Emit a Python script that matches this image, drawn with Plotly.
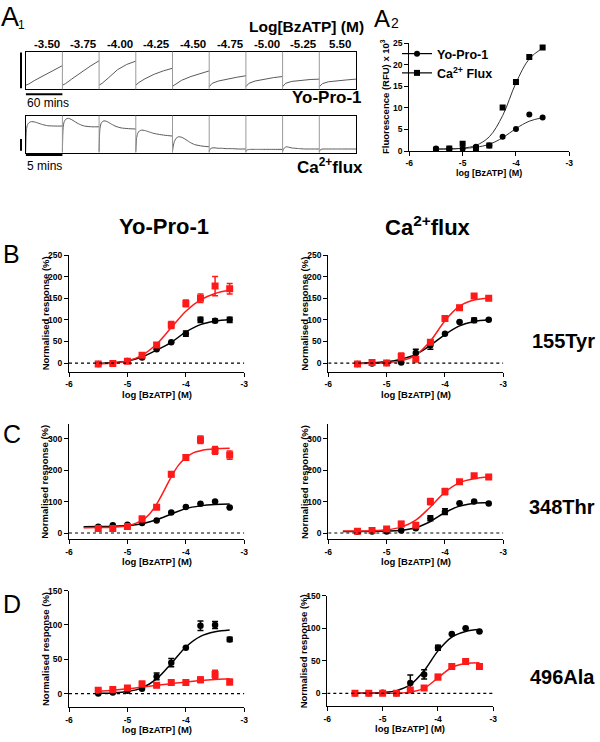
import plotly.graph_objects as go

W, H = 600, 742
FONT = "Liberation Sans, Arial, Helvetica, sans-serif"
RED = "#ff1a1a"
INK = "#000000"
TRACE_GREY = "#5a5a5a"

# ---------------- A1: raw traces ----------------
conc_labels = ["-3.50", "-3.75", "-4.00", "-4.25", "-4.50", "-4.75", "-5.00", "-5.25", "5.50"]
yopro_time = [0, 5, 15, 30, 45, 60]          # minutes within each 60-min window
yopro_signal = [
    [11, 14, 24, 37, 50, 63],
    [11, 15, 27, 45, 61, 76],
    [11, 16, 30, 52, 66, 75],
    [11, 18, 28, 40, 49, 56],
    [8, 14, 24, 34, 42, 49],
    [7, 16, 22, 28, 32, 36],
    [7, 16, 22, 27, 31, 34],
    [7, 16, 21, 24, 26, 27],
    [7, 15, 20, 23, 25, 27],
]
ca_time = [0, 0.1, 0.25, 0.5, 0.8, 1.2, 1.7, 2.3, 3.0, 4.0, 5.0]   # minutes within each 5-min window
ca_signal = [
    [3, 62, 76, 82, 84, 83, 80, 76, 73, 72, 72],
    [3, 68, 84, 91, 93, 90, 84, 77, 72, 70, 70],
    [3, 62, 78, 85, 86, 83, 77, 71, 67, 65, 64],
    [3, 38, 52, 59, 61, 60, 57, 53, 50, 47, 45],
    [3, 18, 30, 39, 43, 42, 37, 29, 22, 18, 16],
    [3, 9, 12, 13, 13, 12, 12, 11, 11, 10, 10],
    [3, 7, 8, 9, 9, 9, 9, 9, 9, 9, 9],
    [3, 9, 13, 16, 15, 13, 12, 11, 10, 10, 10],
    [3, 7, 9, 10, 10, 10, 10, 10, 10, 10, 10],
]
YOPRO_WIN = 60
CA_WIN = 5

# ---------------- A2 ----------------
a2_dose = [-5.5, -5.25, -5.0, -4.75, -4.5, -4.25, -4.0, -3.75, -3.5]
a2_yopro = [0.6, 0.5, 0.5, 1.0, 1.3, 3.3, 5.1, 8.5, 7.8]
a2_ca = [0.3, 0.6, 1.7, 0.7, 1.3, 10.1, 16.0, 21.8, 24.0]
a2_yopro_fit = [0.5, 0.52, 0.6, 0.87, 1.56, 3.07, 5.22, 6.92, 7.74]
a2_ca_fit = [0.41, 0.45, 0.66, 1.3, 3.3, 8.2, 15.8, 21.4, 23.9]

# ---------------- B / C / D ----------------
dose = [-5.5, -5.25, -5.0, -4.75, -4.5, -4.25, -4.0, -3.75, -3.5, -3.25]
fit_x_short = [-5.5, -5.25, -5.0, -4.75, -4.5, -4.25, -4.0, -3.75, -3.5, -3.25]
fit_x_long = [-5.75, -5.5, -5.25, -5.0, -4.75, -4.5, -4.25, -4.0, -3.75, -3.5, -3.25]
fit_x_steep = [-5.75, -5.5, -5.25, -5.0, -4.75, -4.625, -4.5, -4.375, -4.25, -4.125,
               -4.0, -3.875, -3.75, -3.5, -3.25]

# B: 155Tyr
b_yp_black = [-2, -1, 5, 13, 32, 48, 68, 100, 98, 100]
b_yp_black_err = [0, 0, 0, 0, 0, 0, 6, 6, 4, 6]
b_yp_red = [-2, -1, 4, 18, 42, 88, 138, 150, 178, 172]
b_yp_red_err = [0, 0, 2, 3, 5, 8, 8, 10, 22, 12]
b_yp_black_fit = [-1, 1, 5, 14, 30, 48, 72, 89, 97, 101]
b_yp_red_fit = [-2, 0, 5, 18, 44, 82, 120, 146, 161, 169]

b_ca_black = [-2, -1, 0, 1, 23, 41, 68, 95, 99, 100]
b_ca_black_err = [0, 0, 0, 0, 9, 9, 0, 0, 5, 0]
b_ca_red = [-2, 1, 0, 15, 9, 48, 103, 128, 155, 150]
b_ca_red_err = [0, 0, 0, 8, 5, 5, 6, 5, 3, 3]
b_ca_black_fit = [-1, 1, 3, 9, 20, 41, 66, 86, 96, 100]
b_ca_red_fit = [-0.9, -0.5, 0.8, 5, 18.4, 51, 98, 131.6, 145.7, 150.2]

# C: 348Thr
c_yp_black = [20, 25, 26, 32, 40, 65, 83, 93, 100, 81]
c_yp_black_err = [0, 0, 0, 0, 0, 0, 0, 0, 0, 0]
c_yp_red = [14, 14, 21, 45, 82, 187, 240, 297, 263, 248]
c_yp_red_err = [3, 3, 4, 8, 6, 8, 8, 12, 12, 13]
c_yp_black_fit = [20.2, 20.5, 21.4, 23.8, 29.8, 42.2, 60.3, 77.7, 86.4, 90.6, 92.1]
c_yp_red_fit = [17.1, 17.3, 18.4, 22.9, 40, 60, 92, 134, 179, 216, 240, 255, 262, 268, 269.5]

c_ca_black = [4, 5, 5, 8, 15, 47, 68, 95, 100, 94]
c_ca_black_err = [0, 0, 0, 0, 0, 8, 9, 0, 0, 0]
c_ca_red = [6, 8, 13, 29, 25, 100, 132, 163, 182, 178]
c_ca_red_err = [0, 0, 3, 8, 5, 10, 10, 5, 3, 4]
c_ca_black_fit = [5, 5.1, 5.3, 6.1, 8.7, 16.8, 36.7, 65.2, 85.6, 94.2, 96.9]
c_ca_red_fit = [6.1, 6.4, 7.4, 10.3, 18.8, 41, 83, 130, 160.5, 173, 178]

# D: 496Ala
d_yp_black = [0, 1.5, 4, 7, 25, 45, 67, 99, 100, 79]
d_yp_black_err = [0, 0, 0, 0, 5, 6, 0, 7, 5, 3]
d_yp_red = [5, 6, 8, 14, 12, 16, 16, 20, 28, 17]
d_yp_red_err = [2, 2, 2, 4, 3, 2, 4, 4, 6, 4]
d_yp_black_fit = [0.35, 1, 3, 8.4, 21.4, 43.9, 68, 83.4, 90, 92.7]
d_yp_red_fit = [3.5, 5, 7, 9.5, 12, 14.5, 17, 19, 20.5, 21.5]

d_ca_black = [0, 0, 1, 0, 16, 29, 70, 91, 100, 95]
d_ca_black_err = [0, 0, 0, 0, 12, 7, 4, 0, 0, 0]
d_ca_red = [0, 0, 0, 0, 5, 8, 25, 41, 49, 41]
d_ca_red_err = [0, 0, 0, 0, 0, 2, 4, 0, 0, 0]
d_ca_black_fit = [0.1, 0.3, 1.2, 4.1, 13.2, 34.8, 65.2, 86.4, 95, 97.9]
d_ca_red_fit = [0, 0, 0.05, 0.4, 1.8, 7.9, 23.75, 39.6, 45.7, 47.1]

dose_ticks = [-6, -5, -4, -3]
dose_ticktext = ["-6", "-5", "-4", "-3"]
mutants = ["155Tyr", "348Thr", "496Ala"]


def px(p):
    return p / W


def py(p):
    return 1 - p / H


fig = go.Figure()
layout = dict(
    width=W, height=H, margin=dict(l=0, r=0, t=0, b=0),
    paper_bgcolor="white", plot_bgcolor="rgba(0,0,0,0)",
    font=dict(family=FONT, color=INK),
    showlegend=True,
)
shapes = []
annotations = []


def ann(text, x, y, size, bold=True, xanchor="center", yanchor="middle", angle=0,
        xref="paper", yref="paper"):
    annotations.append(dict(
        text=text, x=x, y=y, xref=xref, yref=yref, showarrow=False,
        xanchor=xanchor, yanchor=yanchor, textangle=angle,
        font=dict(family=FONT, size=size, color=INK, weight="bold" if bold else "normal"),
    ))


def box_axis(domain, rng, anchor):
    return dict(domain=domain, range=rng, anchor=anchor, showline=True, mirror=True,
                linecolor=INK, linewidth=1.3, ticks="", showticklabels=False,
                showgrid=False, zeroline=False, fixedrange=True)


def plot_axis(domain, rng, anchor, tickvals, ticktext=None):
    d = dict(domain=domain, range=rng, anchor=anchor, showline=True, mirror=False,
             linecolor=INK, linewidth=1.3, ticks="outside", ticklen=4, tickwidth=1.3,
             tickcolor=INK, showgrid=False, zeroline=False, fixedrange=True,
             automargin=False, tickvals=tickvals,
             tickfont=dict(family=FONT, size=8.5, color=INK, weight="bold"))
    if ticktext is not None:
        d["ticktext"] = ticktext
    return d


# ---------- A1 ----------
A1_X = [px(25.7), px(356)]
layout["xaxis"] = box_axis(A1_X, [0, YOPRO_WIN * len(conc_labels)], "y")
layout["yaxis"] = box_axis([py(89.3), py(51.7)], [0, 100], "x")
layout["xaxis2"] = box_axis(A1_X, [0, CA_WIN * len(conc_labels)], "y2")
layout["yaxis2"] = box_axis([py(152.7), py(115.7)], [0, 100], "x2")

for i, sig in enumerate(yopro_signal):
    fig.add_trace(go.Scatter(x=[i * YOPRO_WIN + t for t in yopro_time], y=sig,
                             mode="lines", line=dict(color=TRACE_GREY, width=1),
                             xaxis="x", yaxis="y", showlegend=False, hoverinfo="skip"))
for i, sig in enumerate(ca_signal):
    fig.add_trace(go.Scatter(x=[i * CA_WIN + t for t in ca_time], y=sig,
                             mode="lines", line=dict(color=TRACE_GREY, width=1, shape="spline", smoothing=0.6),
                             xaxis="x2", yaxis="y2", showlegend=False, hoverinfo="skip"))

for i in range(1, len(conc_labels)):
    shapes.append(dict(type="line", xref="x", yref="y domain", x0=i * YOPRO_WIN, x1=i * YOPRO_WIN,
                       y0=0, y1=1, line=dict(color="#9a9a9a", width=1)))
    shapes.append(dict(type="line", xref="x2", yref="y2 domain", x0=i * CA_WIN, x1=i * CA_WIN,
                       y0=0, y1=1, line=dict(color="#9a9a9a", width=1)))

for i, lab in enumerate(conc_labels):
    ann(lab, i * YOPRO_WIN + YOPRO_WIN / 2 + 4, py(44), 11.5, xref="x")

# scale bars
shapes.append(dict(type="line", xref="paper", yref="y", x0=px(21), x1=px(21), y0=3, y1=98,
                   line=dict(color=INK, width=2)))
shapes.append(dict(type="line", xref="x", yref="paper", x0=0, x1=YOPRO_WIN, y0=py(94.3), y1=py(94.3),
                   line=dict(color=INK, width=2)))
shapes.append(dict(type="line", xref="paper", yref="y2", x0=px(21), x1=px(21), y0=5, y1=37,
                   line=dict(color=INK, width=2)))
shapes.append(dict(type="line", xref="x2", yref="paper", x0=0, x1=CA_WIN, y0=py(155), y1=py(155),
                   line=dict(color=INK, width=2)))
ann("60 mins", px(25), py(102.7), 12, bold=False, xanchor="left")
ann("5 mins", px(25), py(165.7), 12, bold=False, xanchor="left")
ann("Yo-Pro-1", px(364), py(97.3), 17, xanchor="right")
ann("Ca<sup>2+</sup>flux", px(365), py(166), 17, xanchor="right")
ann("Log[BzATP] (M)", px(247), py(26), 15.5, xanchor="left")
ann("A", px(-1), py(17), 27, bold=False, xanchor="left")
ann("1", px(16), py(25), 12, bold=False, xanchor="left")
ann("A", px(372), py(18.5), 24, bold=False, xanchor="left")
ann("2", px(388.5), py(23), 14, bold=False, xanchor="left")

# ---------- A2 ----------
layout["xaxis3"] = plot_axis([px(409.3), px(569.3)], [-6, -3], "y3", dose_ticks, dose_ticktext)
layout["yaxis3"] = plot_axis([py(151), py(43.3)], [0, 25], "x3", [0, 5, 10, 15, 20, 25])
fig.add_trace(go.Scatter(x=a2_dose, y=a2_yopro_fit, mode="lines", xaxis="x3", yaxis="y3",
                         line=dict(color="#333", width=1, shape="spline"), showlegend=False))
fig.add_trace(go.Scatter(x=a2_dose, y=a2_ca_fit, mode="lines", xaxis="x3", yaxis="y3",
                         line=dict(color="#333", width=1, shape="spline"), showlegend=False))
fig.add_trace(go.Scatter(x=a2_dose, y=a2_yopro, mode="markers", xaxis="x3", yaxis="y3",
                         marker=dict(symbol="circle", size=6, color=INK), showlegend=False))
fig.add_trace(go.Scatter(x=a2_dose, y=a2_ca, mode="markers", xaxis="x3", yaxis="y3",
                         marker=dict(symbol="square", size=6, color=INK), showlegend=False))
fig.add_trace(go.Scatter(x=[None], y=[None], mode="lines+markers", xaxis="x3", yaxis="y3",
                         name="Yo-Pro-1", marker=dict(symbol="circle", size=6, color=INK),
                         line=dict(color=INK, width=1.2)))
fig.add_trace(go.Scatter(x=[None], y=[None], mode="lines+markers", xaxis="x3", yaxis="y3",
                         name="Ca<sup>2+</sup> Flux", marker=dict(symbol="square", size=6, color=INK),
                         line=dict(color=INK, width=1.2)))
layout["legend"] = dict(x=px(397), y=py(39), xanchor="left", yanchor="top",
                        bgcolor="rgba(0,0,0,0)", itemwidth=30, tracegroupgap=0,
                        font=dict(family=FONT, size=12.5, color=INK, weight="bold"))
ann("Fluorescence (RFU) x 10<sup>3</sup>", px(385), py(97), 9.5, angle=-90)
ann("log [BzATP] (M)", px(489.3), py(173.3), 9)

# ---------- B / C / D ----------
LEFT_X = [px(69), px(244.3)]
RIGHT_X = [px(328.3), px(503.3)]
panels = [
    (LEFT_X, 371.7, 255, [-20, 250], [0, 50, 100, 150, 200, 250],
     b_yp_black, b_yp_black_err, b_yp_red, b_yp_red_err,
     fit_x_short, b_yp_black_fit, fit_x_short, b_yp_red_fit),
    (RIGHT_X, 371.7, 255, [-20, 250], [0, 50, 100, 150, 200, 250],
     b_ca_black, b_ca_black_err, b_ca_red, b_ca_red_err,
     fit_x_short, b_ca_black_fit, fit_x_short, b_ca_red_fit),
    (LEFT_X, 539.3, 424.3, [-20, 346], [0, 100, 200, 300],
     c_yp_black, c_yp_black_err, c_yp_red, c_yp_red_err,
     fit_x_long, c_yp_black_fit, fit_x_steep, c_yp_red_fit),
    (RIGHT_X, 539.3, 424.3, [-20, 346], [0, 100, 200, 300],
     c_ca_black, c_ca_black_err, c_ca_red, c_ca_red_err,
     fit_x_long, c_ca_black_fit, fit_x_long, c_ca_red_fit),
    (LEFT_X, 707.3, 590.7, [-20, 150], [0, 50, 100, 150],
     d_yp_black, d_yp_black_err, d_yp_red, d_yp_red_err,
     fit_x_short, d_yp_black_fit, fit_x_short, d_yp_red_fit),
    ([px(327.3), px(493.3)], 706.3, 595.7, [-20, 150], [0, 50, 100, 150],
     d_ca_black, d_ca_black_err, d_ca_red, d_ca_red_err,
     fit_x_short, d_ca_black_fit, fit_x_short, d_ca_red_fit),
]

for k, (xd, yb, yt, yr, yt_vals, blk, blk_e, red, red_e, bfx, bfy, rfx, rfy) in enumerate(panels):
    n = k + 4
    xa, ya = f"x{n}", f"y{n}"
    layout[f"xaxis{n}"] = plot_axis(xd, [-6, -3], ya, dose_ticks, dose_ticktext)
    layout[f"yaxis{n}"] = plot_axis([py(yb), py(yt)], yr, xa, yt_vals)
    shapes.append(dict(type="line", xref=xa, yref=ya, x0=-6, x1=-3, y0=0, y1=0,
                       line=dict(color=INK, width=1.2, dash="dot")))
    fig.add_trace(go.Scatter(x=bfx, y=bfy, mode="lines", xaxis=xa, yaxis=ya, showlegend=False,
                             line=dict(color=INK, width=1.5, shape="spline")))
    fig.add_trace(go.Scatter(x=rfx, y=rfy, mode="lines", xaxis=xa, yaxis=ya, showlegend=False,
                             line=dict(color=RED, width=1.5, shape="spline")))
    fig.add_trace(go.Scatter(x=dose, y=blk, mode="markers", xaxis=xa, yaxis=ya, showlegend=False,
                             marker=dict(symbol="circle", size=6.5, color=INK),
                             error_y=dict(type="data", array=blk_e, visible=True, color=INK,
                                          thickness=1.5, width=3)))
    fig.add_trace(go.Scatter(x=dose, y=red, mode="markers", xaxis=xa, yaxis=ya, showlegend=False,
                             marker=dict(symbol="square", size=7, color=RED),
                             error_y=dict(type="data", array=red_e, visible=True, color=RED,
                                          thickness=1.5, width=3)))
    ycen = (yb + yt) / 2
    title_x = xd[0] * W - 24
    ann("Normalised response (%)", px(title_x), py(ycen), 9.5, angle=-90)
    xcen = (xd[0] + xd[1]) / 2
    ann("log [BzATP] (M)", xcen, py(yb + 22.5), 9.5)

ann("Yo-Pro-1", px(163.5), py(226.7), 22)
ann("Ca<sup>2+</sup>flux", px(428), py(226), 22)
for lab, yc in zip(mutants, [340.7, 507, 676.7]):
    ann(lab, px(597), py(yc), 20, xanchor="right")
for lab, xc, yc in [("B", 1, 254), ("C", 1, 434), ("D", 1, 603.5)]:
    ann(lab, px(xc), py(yc), 25, bold=False, xanchor="left")

layout["shapes"] = shapes
layout["annotations"] = annotations
fig.update_layout(**layout)
fig.write_html("out.html", config={"displayModeBar": False},
               post_script="document.body.style.margin='0';document.body.style.overflow='hidden';")
